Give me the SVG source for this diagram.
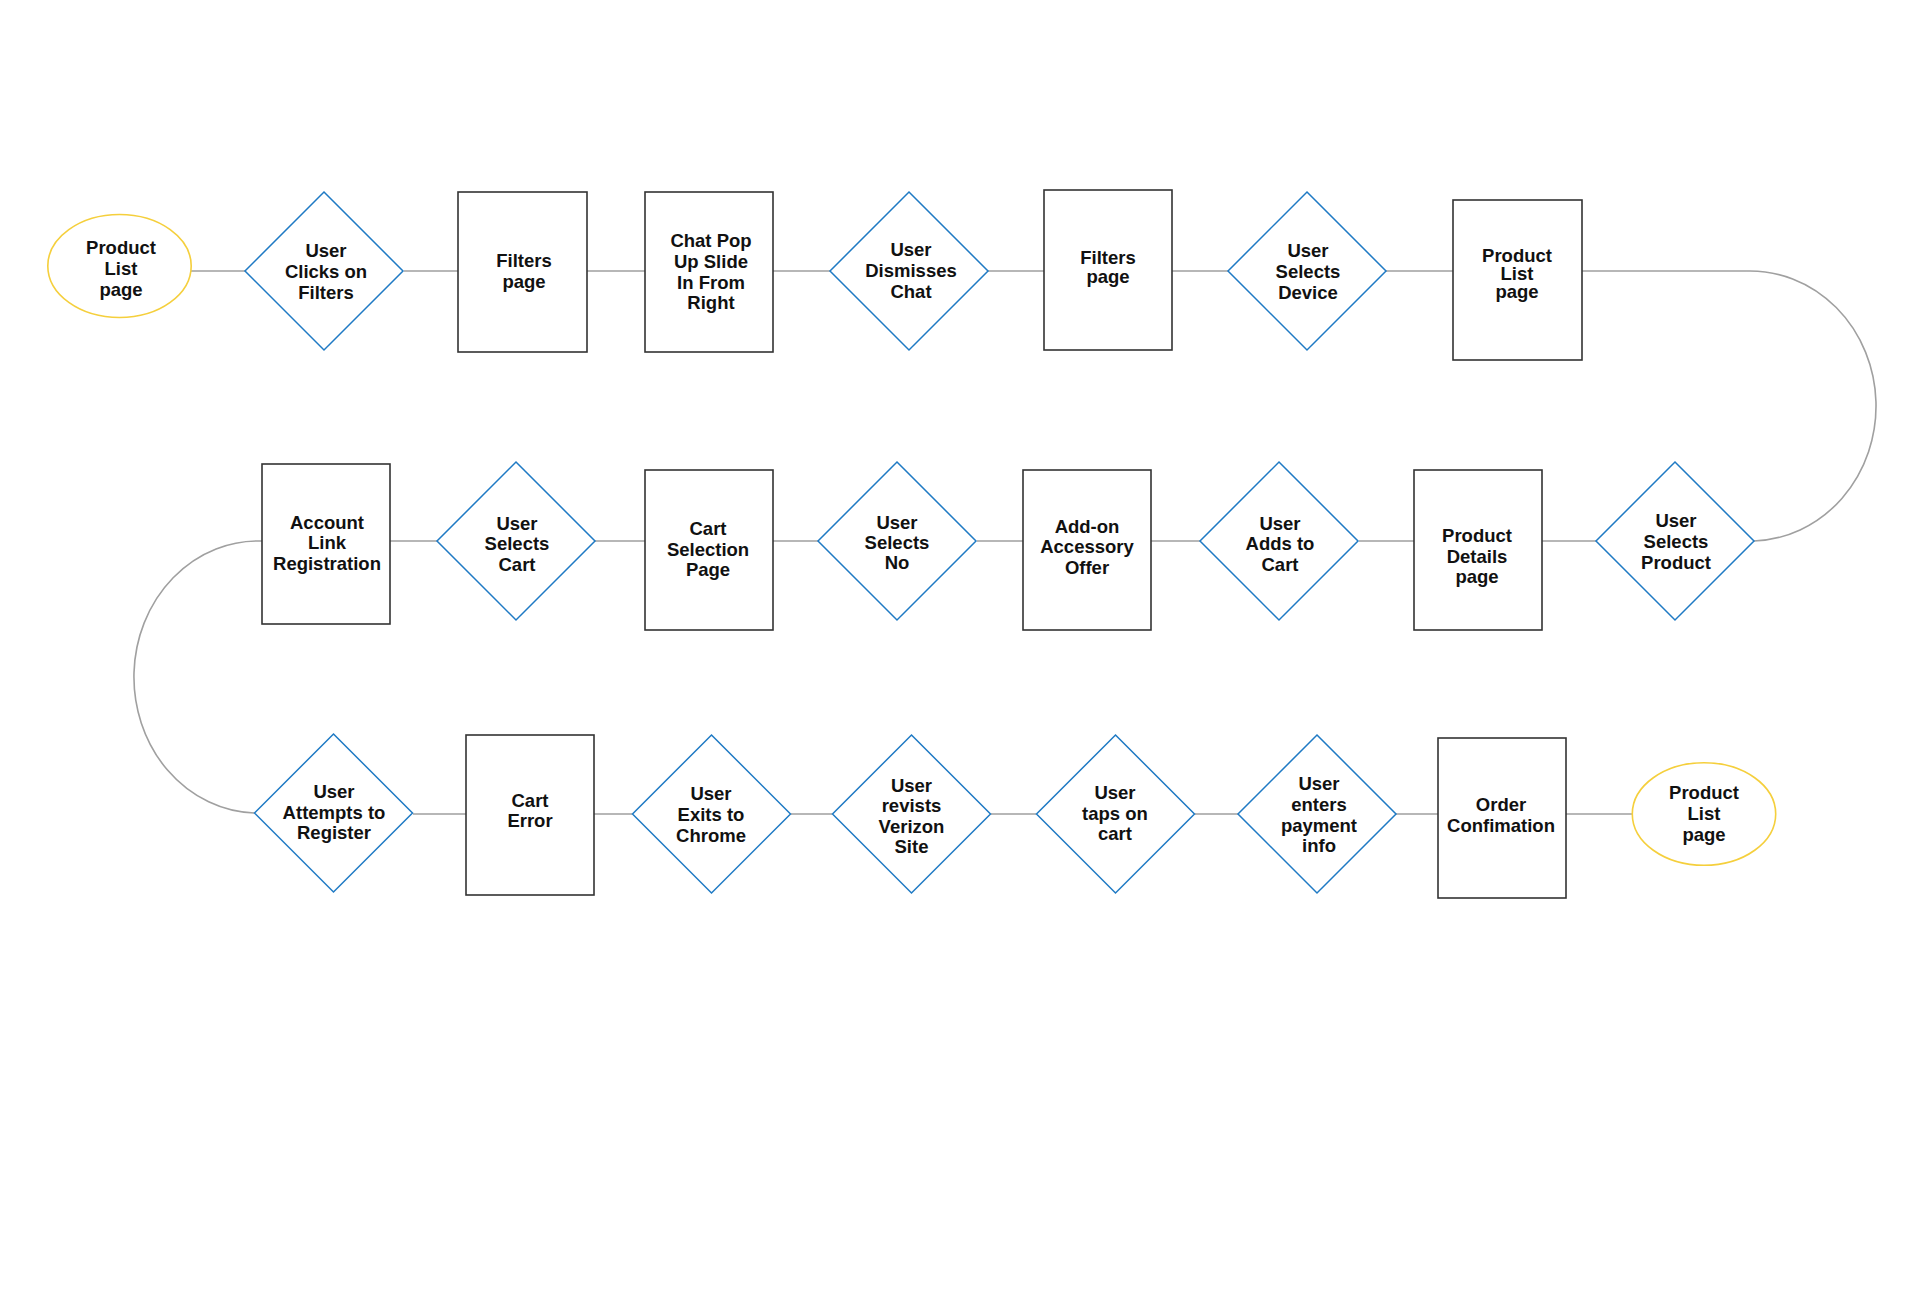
<svg xmlns="http://www.w3.org/2000/svg" width="1920" height="1311" viewBox="0 0 1920 1311">
<style>
.bg{fill:#ffffff}
.dia{fill:#ffffff;stroke:#1f7ac4;stroke-width:1.5}
.box{fill:#ffffff;stroke:#333333;stroke-width:1.6}
.term{fill:#ffffff;stroke:#f5cf3c;stroke-width:1.6}
.con{fill:none;stroke:#a0a0a0;stroke-width:1.6}
text{font-family:"Liberation Sans",Arial,sans-serif;font-weight:bold;font-size:18.5px;fill:#111111;text-anchor:middle}
</style>
<rect class="bg" x="0" y="0" width="1920" height="1311"/>
<g id="connectors">
<path class="con" d="M191,271 H245 M404,271 H458 M587,271 H645 M773,271 H830 M988,271 H1044 M1172,271 H1228 M1386,271 H1453 M1582,271 H1746"/>
<path class="con" d="M1746,271 A126 135 0 0 1 1754,541"/>
<path class="con" d="M1596,541 H1542 M1414,541 H1359 M1200,541 H1151 M1023,541 H977 M818,541 H773 M645,541 H595 M437,541 H390"/>
<path class="con" d="M262,541 A124 136 0 0 0 254,813"/>
<path class="con" d="M413,814 H466 M594,814 H632 M791,814 H832 M991,814 H1036 M1195,814 H1238 M1396,814 H1438 M1566,814 H1632"/>
</g>
<g id="n1"><ellipse class="term" cx="119.5" cy="266" rx="71.7" ry="51.5"/><text x="121" y="254">Product</text><text x="121" y="275">List</text><text x="121" y="296">page</text></g>
<g id="n2"><polygon class="dia" points="324,192 403,271 324,350 245,271"/><text x="326" y="257">User</text><text x="326" y="278">Clicks on</text><text x="326" y="299">Filters</text></g>
<g id="n3"><rect class="box" x="458" y="192" width="129" height="160"/><text x="524" y="267">Filters</text><text x="524" y="288">page</text></g>
<g id="n4"><rect class="box" x="645" y="192" width="128" height="160"/><text x="711" y="247">Chat Pop</text><text x="711" y="268">Up Slide</text><text x="711" y="289">In From</text><text x="711" y="309">Right</text></g>
<g id="n5"><polygon class="dia" points="909,192 988,271 909,350 830,271"/><text x="911" y="256">User</text><text x="911" y="277">Dismisses</text><text x="911" y="298">Chat</text></g>
<g id="n6"><rect class="box" x="1044" y="190" width="128" height="160"/><text x="1108" y="264">Filters</text><text x="1108" y="283">page</text></g>
<g id="n7"><polygon class="dia" points="1307,192 1386,271 1307,350 1228,271"/><text x="1308" y="257">User</text><text x="1308" y="278">Selects</text><text x="1308" y="299">Device</text></g>
<g id="n8"><rect class="box" x="1453" y="200" width="129" height="160"/><text x="1517" y="262">Product</text><text x="1517" y="280">List</text><text x="1517" y="298">page</text></g>
<g id="n9"><polygon class="dia" points="1675,462 1754,541 1675,620 1596,541"/><text x="1676" y="527">User</text><text x="1676" y="548">Selects</text><text x="1676" y="569">Product</text></g>
<g id="n10"><rect class="box" x="1414" y="470" width="128" height="160"/><text x="1477" y="542">Product</text><text x="1477" y="563">Details</text><text x="1477" y="583">page</text></g>
<g id="n11"><polygon class="dia" points="1279,462 1358,541 1279,620 1200,541"/><text x="1280" y="530">User</text><text x="1280" y="550">Adds to</text><text x="1280" y="571">Cart</text></g>
<g id="n12"><rect class="box" x="1023" y="470" width="128" height="160"/><text x="1087" y="533">Add-on</text><text x="1087" y="553">Accessory</text><text x="1087" y="574">Offer</text></g>
<g id="n13"><polygon class="dia" points="897,462 976,541 897,620 818,541"/><text x="897" y="529">User</text><text x="897" y="549">Selects</text><text x="897" y="569">No</text></g>
<g id="n14"><rect class="box" x="645" y="470" width="128" height="160"/><text x="708" y="535">Cart</text><text x="708" y="556">Selection</text><text x="708" y="576">Page</text></g>
<g id="n15"><polygon class="dia" points="516,462 595,541 516,620 437,541"/><text x="517" y="530">User</text><text x="517" y="550">Selects</text><text x="517" y="571">Cart</text></g>
<g id="n16"><rect class="box" x="262" y="464" width="128" height="160"/><text x="327" y="529">Account</text><text x="327" y="549">Link</text><text x="327" y="570">Registration</text></g>
<g id="n17"><polygon class="dia" points="333.5,734 412.5,813 333.5,892 254.5,813"/><text x="334" y="798">User</text><text x="334" y="819">Attempts to</text><text x="334" y="839">Register</text></g>
<g id="n18"><rect class="box" x="466" y="735" width="128" height="160"/><text x="530" y="807">Cart</text><text x="530" y="827">Error</text></g>
<g id="n19"><polygon class="dia" points="711.5,735 790.5,814 711.5,893 632.5,814"/><text x="711" y="800">User</text><text x="711" y="821">Exits to</text><text x="711" y="842">Chrome</text></g>
<g id="n20"><polygon class="dia" points="911.5,735 990.5,814 911.5,893 832.5,814"/><text x="911.5" y="792">User</text><text x="911.5" y="812">revists</text><text x="911.5" y="833">Verizon</text><text x="911.5" y="853">Site</text></g>
<g id="n21"><polygon class="dia" points="1115.5,735 1194.5,814 1115.5,893 1036.5,814"/><text x="1115" y="799">User</text><text x="1115" y="820">taps on</text><text x="1115" y="840">cart</text></g>
<g id="n22"><polygon class="dia" points="1317,735 1396,814 1317,893 1238,814"/><text x="1319" y="790">User</text><text x="1319" y="811">enters</text><text x="1319" y="832">payment</text><text x="1319" y="852">info</text></g>
<g id="n23"><rect class="box" x="1438" y="738" width="128" height="160"/><text x="1501" y="811">Order</text><text x="1501" y="832">Confimation</text></g>
<g id="n24"><ellipse class="term" cx="1704" cy="814" rx="71.7" ry="51.3"/><text x="1704" y="799">Product</text><text x="1704" y="820">List</text><text x="1704" y="841">page</text></g>
</svg>
